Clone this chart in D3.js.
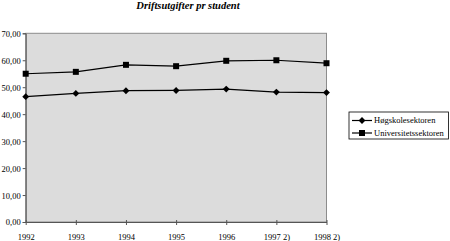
<!DOCTYPE html>
<meta charset="utf-8">
<title>Driftsutgifter pr student</title>
<style>
  body { margin: 0; background: #fff; }
  text { font-family: "Liberation Serif", "Times New Roman", serif; fill: #000; }
</style>
<body>
<svg id="chart" width="450" height="241"></svg>
<script src="https://d3js.org/d3.v7.min.js"></script>
<script>
// data
var years = ["1992", "1993", "1994", "1995", "1996", "1997 2)", "1998 2)"];
var hogskole = [46.5, 47.7, 48.7, 48.8, 49.3, 48.2, 48.0];
var universitet = [55.0, 55.7, 58.3, 57.8, 59.8, 60.0, 58.9];
var yTicks = [0, 10, 20, 30, 40, 50, 60, 70];
var seriesNames = ["Høgskolesektoren", "Universitetssektoren"];

var svg = d3.select("#chart");
var plotL = 25.7, plotR = 326.5, plotT = 33.3, plotB = 222;

var x = d3.scalePoint().domain(years).range([plotL, plotR]);
var y = d3.scaleLinear().domain([0, 70]).range([plotB, plotT]);

svg.append("text")
    .attr("x", 188).attr("y", 9)
    .attr("text-anchor", "middle")
    .style("font-style", "italic").style("font-weight", "bold")
    .style("font-size", "10.5px")
    .text("Driftsutgifter pr student");

// plot area
svg.append("rect")
    .attr("x", plotL).attr("y", plotT)
    .attr("width", plotR - plotL).attr("height", plotB - plotT)
    .attr("fill", "#dcdcdc").attr("stroke", "#8c8c8c").attr("stroke-width", 1);

// y axis
var yAxis = svg.append("g")
    .attr("transform", "translate(" + plotL + ",0)")
    .call(d3.axisLeft(y).tickValues(yTicks).tickSize(3).tickPadding(2)
      .tickFormat(function(d) { return d3.format(".2f")(d).replace(".", ","); }));
yAxis.attr("font-family", null);
yAxis.selectAll("text").style("font-size", "8.5px").attr("dy", "0.35em");
yAxis.select(".domain").attr("stroke", "#555");
yAxis.selectAll(".tick line").attr("stroke", "#555");

// x axis
var xAxis = svg.append("g")
    .attr("transform", "translate(0," + plotB + ")")
    .call(d3.axisBottom(x).tickSize(3).tickPadding(9).tickSizeOuter(0));
xAxis.attr("font-family", null);
xAxis.selectAll("text").style("font-size", "8.5px");
xAxis.select(".domain").attr("stroke", "#555");
xAxis.selectAll(".tick line").attr("stroke", "#555").attr("y1", -2);

var line = d3.line()
    .x(function(d, i) { return x(years[i]); })
    .y(function(d) { return y(d); });

var diamond = d3.symbol().type(d3.symbolDiamond2).size(30);
var square = d3.symbol().type(d3.symbolSquare).size(36);

[[hogskole, diamond], [universitet, square]].forEach(function(s) {
  svg.append("path").datum(s[0])
      .attr("d", line).attr("fill", "none")
      .attr("stroke", "#000").attr("stroke-width", 1.2);
  svg.selectAll(null).data(s[0]).enter().append("path")
      .attr("d", s[1])
      .attr("transform", function(d, i) { return "translate(" + x(years[i]) + "," + y(d) + ")"; })
      .attr("fill", "#000");
});

// legend
var lg = svg.append("g").attr("transform", "translate(349,112)");
lg.append("rect").attr("width", 99.5).attr("height", 27)
    .attr("fill", "#fff").attr("stroke", "#000").attr("stroke-width", 0.8);
[diamond, square].forEach(function(sym, i) {
  var yy = 8.5 + i * 12.5;
  lg.append("line").attr("x1", 3).attr("x2", 23).attr("y1", yy).attr("y2", yy)
      .attr("stroke", "#000").attr("stroke-width", 1.2);
  lg.append("path").attr("d", sym).attr("transform", "translate(13," + yy + ")");
  lg.append("text").attr("x", 25).attr("y", yy).attr("dy", "0.35em")
      .style("font-size", "8.5px").text(seriesNames[i]);
});
</script>
</body>
